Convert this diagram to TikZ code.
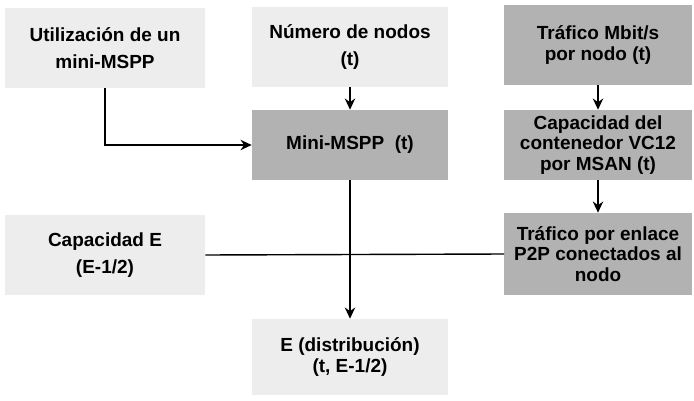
\documentclass[tikz,border=0pt]{standalone}
\usepackage{fontspec}
\setmainfont{Liberation Sans}
\usetikzlibrary{positioning,arrows.meta}

\begin{document}
\begin{tikzpicture}[
  x=0.025cm, y=-0.025cm,
  font=\fontsize{13.5}{14.5}\selectfont\bfseries,
  >={Stealth[length=2.8mm, width=2.6mm]},
  lightbox/.style={fill=black!7, align=center, inner sep=2pt},
  darkbox/.style={fill=black!30, align=center, inner sep=2pt},
  widelines/.style={font=\fontsize{13.5}{19.5}\selectfont\bfseries},
  flow/.style={->, line width=1pt},
  link/.style={line width=1pt},
]
% ---- page frame ----
\useasboundingbox (0,0) rectangle (694,400);

% ---- top row ----
\node[lightbox, widelines, minimum width=5cm, minimum height=2cm] (util) at (105,48) {Utilización de un\\mini-MSPP};
\node[lightbox, widelines, minimum width=4.875cm, minimum height=2cm] (nodos) at (350,47) {Número de nodos\\(t)};
\node[darkbox, minimum width=4.675cm, minimum height=2cm] (trafico) at (598,45) {Tráfico Mbit/s\\por nodo (t)};

% ---- middle row ----
\node[darkbox, minimum width=4.9cm, minimum height=1.75cm] (mini) at (350,145) {Mini-MSPP\ \ (t)};
\node[darkbox, minimum width=4.675cm, minimum height=1.75cm] (vc12) at (598,145) {Capacidad del\\contenedor VC12\\por MSAN (t)};

% ---- lower rows ----
\node[lightbox, widelines, minimum width=5cm, minimum height=2cm] (capE) at (105,255) {Capacidad E\\(E-1/2)};
\node[darkbox, minimum width=4.675cm, minimum height=2.05cm] (enlace) at (598,254) {Tráfico por enlace\\P2P conectados al\\nodo};
\node[lightbox, minimum width=4.875cm, minimum height=1.9cm] (dist) at (350,357) {E (distribución)\\(t, E-1/2)};

% ---- connectors ----
\draw[flow] (util.south) |- (mini.west);
\draw[flow] (nodos.south) -- (mini.north);
\draw[flow] (trafico.south) -- (vc12.north);
\draw[flow] (vc12.south) -- (enlace.north);
\draw[flow] (mini.south) -- (dist.north);
\draw[link] (capE.east) -- (enlace.west);
\end{tikzpicture}
\end{document}
